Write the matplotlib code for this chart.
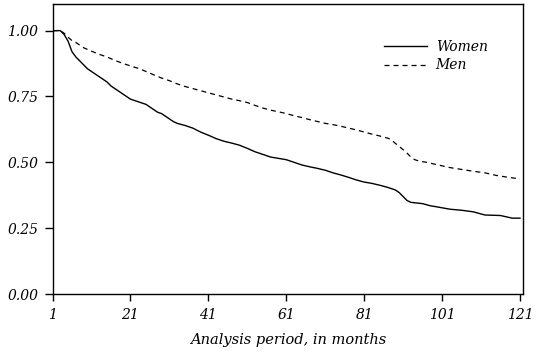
import matplotlib
matplotlib.use("Agg")
import matplotlib.pyplot as plt

women_months = [1, 3, 4, 5, 6, 7, 8, 9, 10, 11, 12, 13, 14, 15, 16, 17, 18, 19, 20, 21,
                22, 23, 24, 25, 26, 27, 28, 29, 30, 31, 32, 33, 35, 37, 39, 41, 43, 45, 47, 49,
                51, 53, 55, 57, 59, 61, 63, 65, 67, 69, 71, 73, 75, 77, 79, 81, 83, 85, 87, 89,
                90, 91, 92, 93, 96, 98, 100, 103, 106, 109, 112, 116, 119, 121]
women_surv = [1.00, 1.00, 0.985, 0.96, 0.92, 0.90, 0.885, 0.87, 0.855, 0.845, 0.835, 0.825,
              0.815, 0.805, 0.79, 0.78, 0.77, 0.76, 0.75, 0.74, 0.735, 0.73, 0.725, 0.72, 0.71,
              0.70, 0.69, 0.685, 0.675, 0.665, 0.655, 0.648, 0.64, 0.63, 0.615, 0.603, 0.59,
              0.58, 0.573, 0.565, 0.553, 0.54, 0.53, 0.52, 0.515, 0.51, 0.50, 0.49, 0.483,
              0.477, 0.47, 0.46, 0.452, 0.443, 0.433, 0.425, 0.42, 0.413, 0.405, 0.395, 0.385,
              0.37, 0.355, 0.348, 0.343, 0.335, 0.33, 0.322, 0.318, 0.312, 0.30, 0.298, 0.288,
              0.288]

men_months = [1, 3, 4, 5, 6, 7, 8, 9, 11, 13, 15, 17, 19, 21, 23, 25, 27, 29, 31, 33, 35, 37,
              39, 41, 43, 45, 47, 49, 51, 53, 55, 57, 59, 61, 63, 65, 67, 69, 71, 73, 75, 77,
              79, 81, 83, 85, 87, 88, 89, 90, 91, 92, 93, 94, 95, 97, 100, 103, 106, 109, 112,
              115, 118, 121]
men_surv = [1.00, 1.00, 0.99, 0.975, 0.962, 0.955, 0.945, 0.935, 0.922, 0.91, 0.90, 0.887,
            0.876, 0.866, 0.857, 0.845, 0.832, 0.82, 0.81, 0.798, 0.788, 0.78, 0.772, 0.764,
            0.756, 0.748, 0.74, 0.734, 0.727, 0.716, 0.706, 0.698, 0.692, 0.685, 0.677, 0.67,
            0.662, 0.655, 0.648, 0.643, 0.637, 0.63, 0.623, 0.615, 0.607, 0.60, 0.592, 0.585,
            0.572, 0.56, 0.548, 0.535, 0.52, 0.51, 0.505, 0.50, 0.49, 0.48, 0.473, 0.466, 0.46,
            0.45, 0.443, 0.437]

x_ticks = [1, 21, 41, 61, 81, 101, 121]
y_ticks = [0.00, 0.25, 0.50, 0.75, 1.00]
y_tick_labels = ["0.00", "0.25", "0.50", "0.75", "1.00"]
x_label = "Analysis period, in months"
series_labels = ["Women", "Men"]

plt.rcParams["font.family"] = ["DejaVu Serif"]
plt.rcParams["font.style"] = "italic"
plt.rcParams["lines.scale_dashes"] = False

W, H = 535, 351
fig = plt.figure(figsize=(W / 100, H / 100), dpi=100)
ax = fig.add_axes([52.5 / W, (H - 294) / H, (523.3 - 52.5) / W, (294 - 4.3) / H])

ax.plot(women_months, women_surv, color="black", lw=1.0, label=series_labels[0])
ax.plot(men_months, men_surv, color="black", lw=0.9,
        linestyle=(0, (3.6, 2.9)), label=series_labels[1])

ax.set_xlim(1, 121.85)
ax.set_ylim(0, 1.10)
ax.set_xticks(x_ticks)
ax.set_xticklabels([str(t) for t in x_ticks])
ax.set_yticks(y_ticks)
ax.set_yticklabels(y_tick_labels)
ax.tick_params(axis="y", direction="out", length=5.8, width=1.0, labelsize=10, pad=4.3)
ax.tick_params(axis="x", direction="out", length=5.2, width=1.0, labelsize=10, pad=4.8)
for s in ax.spines.values():
    s.set_linewidth(1.0)
ax.set_xlabel(x_label, fontsize=10.5, labelpad=8)

leg = ax.legend(loc="upper left", bbox_to_anchor=(0.69, 0.90), frameon=False,
                fontsize=10, handlelength=3.1, handletextpad=0.6, labelspacing=0.3,
                borderpad=0)

fig.savefig("out.png", dpi=100)
